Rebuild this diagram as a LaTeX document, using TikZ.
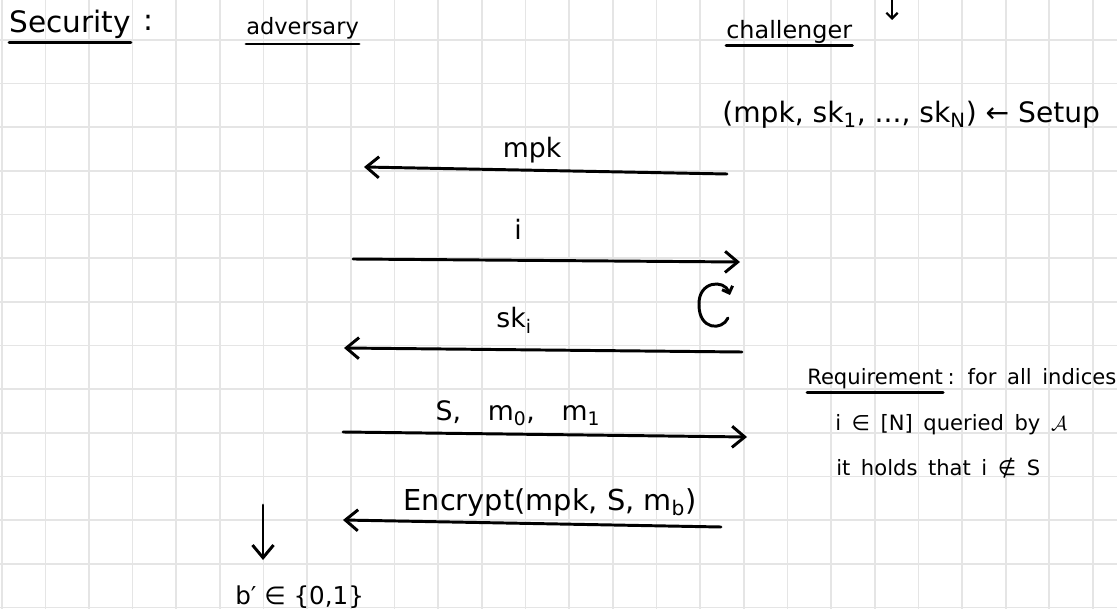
\documentclass[tikz,border=0pt]{standalone}
\usepackage{fontspec}
\setmainfont{DejaVu Sans}
\usetikzlibrary{arrows.meta,positioning}

\begin{document}
\begin{tikzpicture}[x=0.025cm,y=-0.025cm,
  gridline/.style={black!10,line width=1.2pt},
  hw/.style={inner sep=0pt,font=\fontsize{19}{22}\selectfont},
  reqtext/.style={inner sep=0pt,font=\fontsize{15}{18}\selectfont,
    execute at begin node={\spaceskip=0.5em\relax}},
  msg/.style={line width=2.1pt,line cap=round,
    -{Straight Barb[length=9pt,width=15pt]}},
  ul/.style={line width=2.1pt,line cap=round}]
\useasboundingbox (0,0) rectangle (1117,609);
\clip (0,0) rectangle (1117,609);
\fill[white] (0,0) rectangle (1117,609);
% squared paper
\foreach \k in {0,...,25}
  \draw[gridline] (1.7+43.65*\k,0) -- (1.7+43.65*\k,609);
\foreach \k in {0,...,13}
  \draw[gridline] (0,40+43.65*\k) -- (1117,40+43.65*\k);

% headings
\node[hw,font=\fontsize{21}{24}\selectfont,anchor=base west] (security) at (9,33) {Security};
\node[hw,font=\fontsize{21}{24}\selectfont,anchor=base west] (colon) at (143,31) {:};
\draw[ul] ([yshift=-7pt]security.base west) -- ([yshift=-7pt]security.base east);
\node[hw,font=\fontsize{16}{20}\selectfont,anchor=base west] (adversary) at (246,35) {adversary};
\draw[ul] ([yshift=-6.4pt]adversary.base west) -- ([yshift=-6.4pt]adversary.base east);
\node[hw,font=\fontsize{17}{20}\selectfont,anchor=base west] (challenger) at (726,39) {challenger};
\draw[ul] ([yshift=-4.5pt]challenger.base west) -- ([yshift=-4.5pt]challenger.base east);

% setup
\coordinate (setupin) at (892,-12);
\coordinate (setupout) at (892,20);
\draw[ul,line width=1.6pt,-{Straight Barb[length=4pt,width=8pt]}] (setupin) -- (setupout);
\node[hw,font=\fontsize{20}{24}\selectfont,anchor=base west] (setup) at (722,123)
  {(mpk, sk\textsubscript{1}, ..., sk\textsubscript{N}) ← Setup};

% messages
\coordinate (mpkC) at (727,174);
\coordinate (mpkA) at (364,167);
\draw[msg] (mpkC) -- (mpkA);
\node[hw,anchor=base] (mpk) at (532,158) {mpk};

\coordinate (idxA) at (353,259);
\coordinate (idxC) at (740,262);
\draw[msg] (idxA) -- (idxC);
\node[hw,anchor=base] (idx) at (518,240) {i};

\draw[ul,-{Straight Barb[length=4pt,width=8pt]}] (728,318)
  .. controls (722,331) and (699,330) .. (699,305)
  .. controls (698,281) and (724,279) .. (730,295);

\coordinate (skC) at (742,352);
\coordinate (skA) at (344,348);
\draw[msg] (skC) -- (skA);
\node[hw,anchor=base] (ski) at (514,328) {sk\textsubscript{i}};

\coordinate (chalA) at (343,432);
\coordinate (chalC) at (747,437);
\draw[msg] (chalA) -- (chalC);
\node[hw,anchor=base] (chal) at (518,420) {S,\quad m\textsubscript{0},\quad m\textsubscript{1}};

\coordinate (ctC) at (721,527);
\coordinate (ctA) at (343,520);
\draw[msg] (ctC) -- (ctA);
\node[hw,font=\fontsize{20.5}{24}\selectfont,anchor=base] (ct) at (550,510) {Encrypt(mpk, S, m\textsubscript{b})};

% guess
\coordinate (guessfrom) at (263,505);
\coordinate (guessto) at (263,560);
\draw[msg] (guessfrom) -- (guessto);
\node[hw,font=\fontsize{17.5}{22}\selectfont,anchor=base west] (guess) at (235,604) {b′ ∈ \{0,1\}};

% requirement
\node[reqtext,anchor=base west] (req) at (807,385) {Requirement};
\draw[ul] ([yshift=-5pt]req.base west) -- ([yshift=-5pt]req.base east);
\node[reqtext,anchor=base west] (reqrest) at ([xshift=3pt]req.base east) {: for all indices};
\node[reqtext,anchor=base west] (reqtwo) at (835,430) {i ∈ [N] queried by $\mathcal{A}$};
\node[reqtext,anchor=base west] (reqthree) at (836,475) {it holds that i ∉ S};
\end{tikzpicture}
\end{document}
